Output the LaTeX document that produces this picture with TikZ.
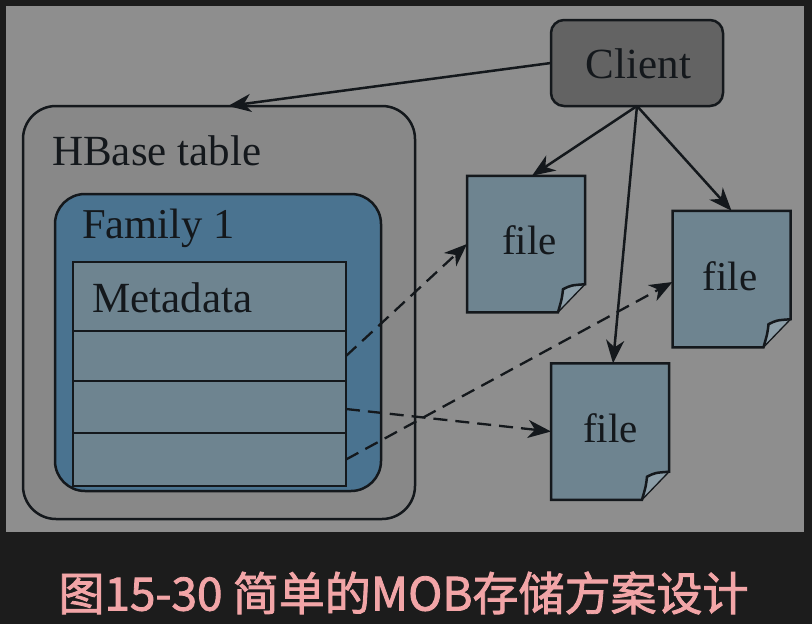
\documentclass[tikz,border=0pt]{standalone}
\usepackage{fontspec}
\setmainfont{Liberation Serif}
\newfontfamily\cjkcap[FakeBold=1.8]{Noto Sans CJK SC}
\usetikzlibrary{arrows.meta,calc}
\definecolor{pagedark}{HTML}{1C1C1C}
\definecolor{panelgray}{HTML}{8E8E8E}
\definecolor{tablegray}{HTML}{888888}
\definecolor{clientgray}{HTML}{636363}
\definecolor{familyblue}{HTML}{4A7390}
\definecolor{rowblue}{HTML}{6E8490}
\definecolor{foldblue}{HTML}{8C9EA8}
\definecolor{inkdark}{HTML}{14181C}
\definecolor{captionpink}{HTML}{F2A5A7}
\tikzset{
  x=1pt,y=-1pt,
  outline/.style={draw=inkdark,line width=2.5pt},
  roundbox/.style={outline,inner sep=0pt,outer sep=0pt},
  rowbox/.style={outline,fill=rowblue,minimum width=273pt,inner sep=0pt,outer sep=0pt},
  bigtext/.style={font=\fontsize{43}{43}\selectfont,text=inkdark,inner sep=0pt,anchor=base west},
  fileshape/.style={minimum width=118pt,minimum height=136.5pt,inner sep=0pt,outer sep=0pt},
  filetext/.style={font=\fontsize{41}{41}\selectfont,text=inkdark,inner sep=0pt},
  solidlink/.style={draw=inkdark,line width=2.5pt,-{Stealth[length=23pt,width=18pt,inset=7pt]}},
  dashlink/.style={draw=inkdark,line width=2.3pt,dash pattern=on 14pt off 8pt,-{Stealth[length=23pt,width=18pt,inset=7pt]}},
}
\newcommand{\filedeco}[1]{%
  \coordinate (nw) at (#1.north west);
  \coordinate (ne) at (#1.north east);
  \coordinate (sw) at (#1.south west);
  \coordinate (cr) at ($(#1.south east)+(0,-28)$);
  \coordinate (cb) at ($(#1.south east)+(-27,0)$);
  \coordinate (ci) at ($(#1.south east)+(-22,-23)$);
  \fill[foldblue] (cb) .. controls ($(ci)+(-1,9)$) .. (ci) .. controls ($(ci)+(8,-4)$) .. (cr) -- cycle;
  \path[outline,fill=rowblue] (nw) -- (ne) -- (cr) .. controls ($(ci)+(8,-4)$) .. (ci) .. controls ($(ci)+(-1,9)$) .. (cb) -- (sw) -- cycle;
  \draw[draw=inkdark,line width=1.3pt] (cr) -- (cb);
}
\begin{document}
\begin{tikzpicture}
\useasboundingbox (0,0) rectangle (812,624);
\fill[pagedark] (0,0) rectangle (812,624);
\fill[panelgray] (6,6) rectangle (804,532);

\node[roundbox,rounded corners=33pt,fill=tablegray,minimum width=392pt,minimum height=413pt] (hbase) at (219,312.5) {};
\node[bigtext] (hbaselabel) at (52,165) {HBase table};
\node[roundbox,rounded corners=30pt,fill=familyblue,minimum width=326pt,minimum height=297pt] (family) at (218,342.5) {};
\node[bigtext,font=\fontsize{42.5}{42.5}\selectfont] (familylabel) at (82,238) {Family 1};

\node[rowbox,minimum height=69pt] (r0) at (209.5,296.5) {};
\node[rowbox,minimum height=50pt] (r1) at (209.5,356) {};
\node[rowbox,minimum height=52pt] (r2) at (209.5,407) {};
\node[rowbox,minimum height=53pt] (r3) at (209.5,459.5) {};
\node[bigtext] (metalabel) at (92,312) {Metadata};

\node[roundbox,rounded corners=13pt,fill=clientgray,minimum width=172pt,minimum height=86pt] (client) at (637,63) {};
\node[font=\fontsize{43}{43}\selectfont,text=inkdark,inner sep=0pt] (clientlabel) at (638.5,64) {Client};

\node[fileshape] (f1) at (526,244) {};
\filedeco{f1}
\node[filetext] (f1t) at (529.5,240) {file};
\node[fileshape] (f2) at (731.5,279) {};
\filedeco{f2}
\node[filetext] (f2t) at (730,276) {file};
\node[fileshape] (f3) at (610,431.5) {};
\filedeco{f3}
\node[filetext] (f3t) at (610.5,428) {file};

\draw[solidlink] (client.west) -- ([xshift=9pt]hbase.north);
\draw[solidlink] (client.south) -- ([xshift=6pt]f1.north);
\draw[solidlink] (client.south) -- (f2.north);
\draw[solidlink] (client.south) -- ([xshift=3pt]f3.north);

\draw[dashlink] (r1.east) -- (f1.west);
\draw[dashlink] ([yshift=-2pt]r2.east) -- (f3.west);
\draw[dashlink] (r3.east) -- ([yshift=-3pt]f2.west);

\node[font=\cjkcap\fontsize{46}{46}\selectfont,text=captionpink,inner sep=0pt] (caption) at (403.5,593) {图15-30 简单的MOB存储方案设计};
\end{tikzpicture}
\end{document}
